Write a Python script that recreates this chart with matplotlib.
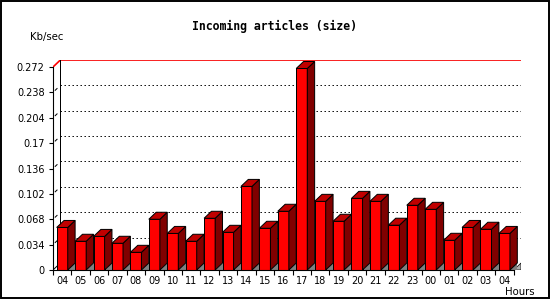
import matplotlib
matplotlib.use("Agg")
import matplotlib.pyplot as plt
from matplotlib.patches import Polygon, Rectangle
import numpy as np

hours = ["04", "05", "06", "07", "08", "09", "10", "11", "12", "13", "14", "15",
         "16", "17", "18", "19", "20", "21", "22", "23", "00", "01", "02", "03", "04"]
values = [0.057, 0.0385, 0.045, 0.0358, 0.0237, 0.068, 0.049, 0.0385, 0.0693,
          0.0505, 0.112, 0.0559, 0.0787, 0.270, 0.092, 0.0653, 0.096, 0.092,
          0.060, 0.0867, 0.0813, 0.0398, 0.057, 0.0546, 0.049]
yticks = [0, 0.034, 0.068, 0.102, 0.136, 0.17, 0.204, 0.238, 0.272]
ytick_labels = ["0", "0.034", "0.068", "0.102", "0.136", "0.17", "0.204", "0.238", "0.272"]
title = "Incoming articles (size)"
ylabel = "Kb/sec"
xlabel = "Hours"

W, H = 550, 300
fig = plt.figure(figsize=(W / 100, H / 100), dpi=100)
fig.patch.set_facecolor("white")

n = len(values)
ymax = yticks[-1]
dx = 0.4          # depth in slot units
dy = 0.00938      # depth in value units
bw = 0.6

ax = fig.add_axes([53 / W, 30 / H, 468 / W, 210 / H])
ax.set_xlim(0, n + dx)
ax.set_ylim(0, ymax + dy)
ax.patch.set_alpha(0)

for s in ["top", "right"]:
    ax.spines[s].set_visible(False)
ax.spines["left"].set_bounds(0, ymax)
ax.spines["bottom"].set_bounds(0, n)
ax.spines["left"].set_linewidth(0.8)
ax.spines["bottom"].set_linewidth(0.8)
ax.spines["left"].set_zorder(6)
ax.spines["bottom"].set_zorder(6)

lw = 0.72
# back wall grid
for t in yticks[1:-1]:
    ax.plot([dx, n + dx], [t + dy, t + dy], color="black", lw=lw,
            linestyle=(0, (1.4, 2.6)), zorder=1)
    ax.plot([dx * 0.3, dx * 0.55], [t + dy * 0.3, t + dy * 0.55], color="black", lw=lw, zorder=1)
# top edge
ax.plot([dx, n + dx], [ymax + dy + 0.0016, ymax + dy + 0.0016], color="black", lw=0.9, zorder=1)
ax.plot([0, dx, n + dx], [ymax, ymax + dy, ymax + dy], color="red", lw=1.2, zorder=1)
# back wall edges
ax.plot([dx, dx], [dy, ymax + dy], color="black", lw=lw, zorder=1)
ax.plot([n + dx, n + dx], [dy, ymax + dy + 0.0016], color="black", lw=lw, zorder=1)
ax.plot([0, dx], [0, dy], color="black", lw=lw, zorder=1)
ax.add_patch(Polygon([(n, 0), (n + dx, dy), (n + dx, 0)], closed=True,
                     facecolor="#b0b0b0", edgecolor="black", lw=0.5, zorder=1))

x = np.arange(n) + 0.5
ax.bar(x, values, width=bw, color="#ff0000", edgecolor="black", linewidth=lw, zorder=3)
for xi, v in zip(x, values):
    r = xi + bw / 2
    l = xi - bw / 2
    ax.add_patch(Polygon([(r, 0), (r + dx, 0), (r + dx, dy)], closed=True,
                         facecolor="#808080", edgecolor="none", zorder=2))
    ax.add_patch(Polygon([(r, 0), (r + dx, dy), (r + dx, v + dy), (r, v)], closed=True,
                         facecolor="#800000", edgecolor="black", lw=lw, zorder=3))
    ax.add_patch(Polygon([(l, v), (l + dx, v + dy), (r + dx, v + dy), (r, v)], closed=True,
                         facecolor="#c00000", edgecolor="black", lw=lw, zorder=3))

ax.set_yticks(yticks)
ax.set_yticklabels(ytick_labels, fontsize=7, family="DejaVu Sans")
ax.tick_params(axis="y", length=3, width=0.8, pad=3)
ax.set_xticks(np.arange(n + 1))
ax.set_xticklabels([])
ax.set_xticks(x, minor=True)
ax.set_xticklabels(hours, minor=True, fontsize=7, family="DejaVu Sans")
ax.tick_params(axis="x", which="major", length=3.5, width=0.8)
ax.tick_params(axis="x", which="minor", length=0, pad=4.5)

fig.text(274 / W, 1 - 26 / H, title, ha="center", va="center", fontsize=8.3,
         fontweight="bold", family="DejaVu Sans Mono")
fig.text(30 / W, 1 - 37 / H, ylabel, ha="left", va="center", fontsize=7.3, family="DejaVu Sans")
fig.text(505 / W, 1 - 292 / H, xlabel, ha="left", va="center", fontsize=7.3, family="DejaVu Sans")

fig.add_artist(Rectangle((0.6 / W, 1 - 297.5 / H), 548 / W, 297 / H, transform=fig.transFigure,
                         fill=False, edgecolor="black", lw=1.4))

fig.savefig("out.png", dpi=100)
